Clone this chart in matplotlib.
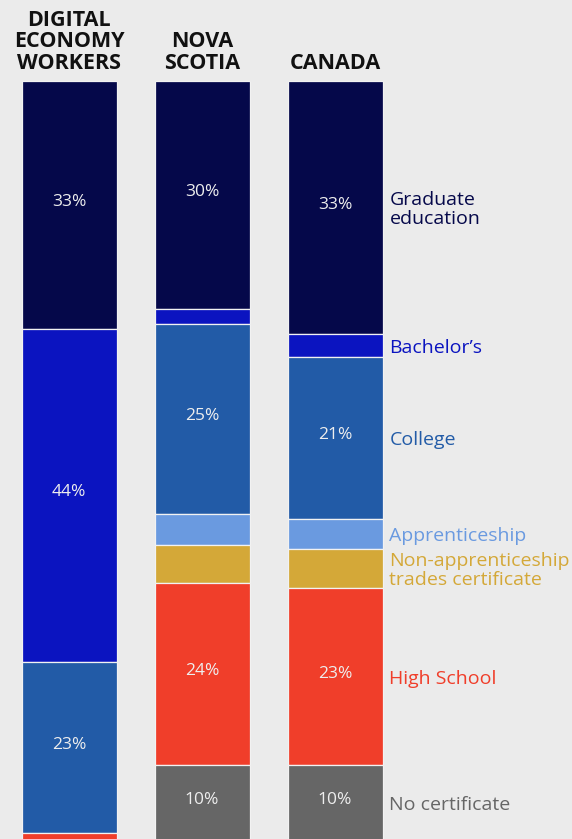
import matplotlib.pyplot as plt
import numpy as np

plt.rcParams['font.family'] = ['Open Sans', 'DejaVu Sans']

groups = ["DIGITAL\nECONOMY\nWORKERS", "NOVA\nSCOTIA", "CANADA"]
levels = ["Graduate\neducation", "Bachelor’s", "College", "Apprenticeship",
          "Non-apprenticeship\ntrades certificate", "High School", "No certificate"]
colors = ["#05084a", "#0b14c0", "#225ba7", "#6a9ae0", "#d4a838", "#f03e2a", "#666666"]

# shares (%) per group, in the same order as levels
digital = [32.6, 43.8, 22.6, 0.0, 0.0, 1.0, 0.0]
nova_scotia = [30.0, 2.0, 25.0, 4.0, 5.0, 24.0, 10.0]
canada = [33.3, 3.0, 21.3, 4.0, 5.1, 23.3, 10.0]
shares = [digital, nova_scotia, canada]

bg = "#ebebeb"
fig = plt.figure(figsize=(5.72, 8.39), dpi=100, facecolor=bg)
# bars run slightly past the bottom edge of the figure
ax = fig.add_axes([0, -2 / 839, 1, (841 - 81) / 839])
ax.set_facecolor(bg)

bar_w = 95 / 133
for i, vals in enumerate(shares):
    top = 100.0
    for v, c in zip(vals, colors):
        if v <= 0:
            continue
        ax.bar(i, v, bottom=top - v, width=bar_w, color=c,
               edgecolor="#f2f2f2", linewidth=0.9)
        if v >= 9:
            ax.annotate(f"{v:.0f}%", (i, top - v / 2), xytext=(0, 2),
                        textcoords="offset points", ha="center", va="center",
                        color="#eeeeee", fontsize=12.5)
        top -= v
    ax.annotate(groups[i], (i, 100), xytext=(0, 8.5), textcoords="offset points",
                ha="center", va="baseline", fontsize=15.5, fontweight="bold",
                color="#111111", linespacing=1.05)

# labels beside the last bar
top = 100.0
for name, v, c in zip(levels, canada, colors):
    ax.annotate(name, (2 + bar_w / 2, top - v / 2), xytext=(5, -1.5),
                textcoords="offset points", ha="left", va="center",
                color=c, fontsize=14, linespacing=1.08)
    top -= v

ax.set_xlim(-69 / 133, (572 - 69) / 133)
ax.set_ylim(0, 100)
ax.axis("off")

fig.savefig("out.png", dpi=100, facecolor=bg)
